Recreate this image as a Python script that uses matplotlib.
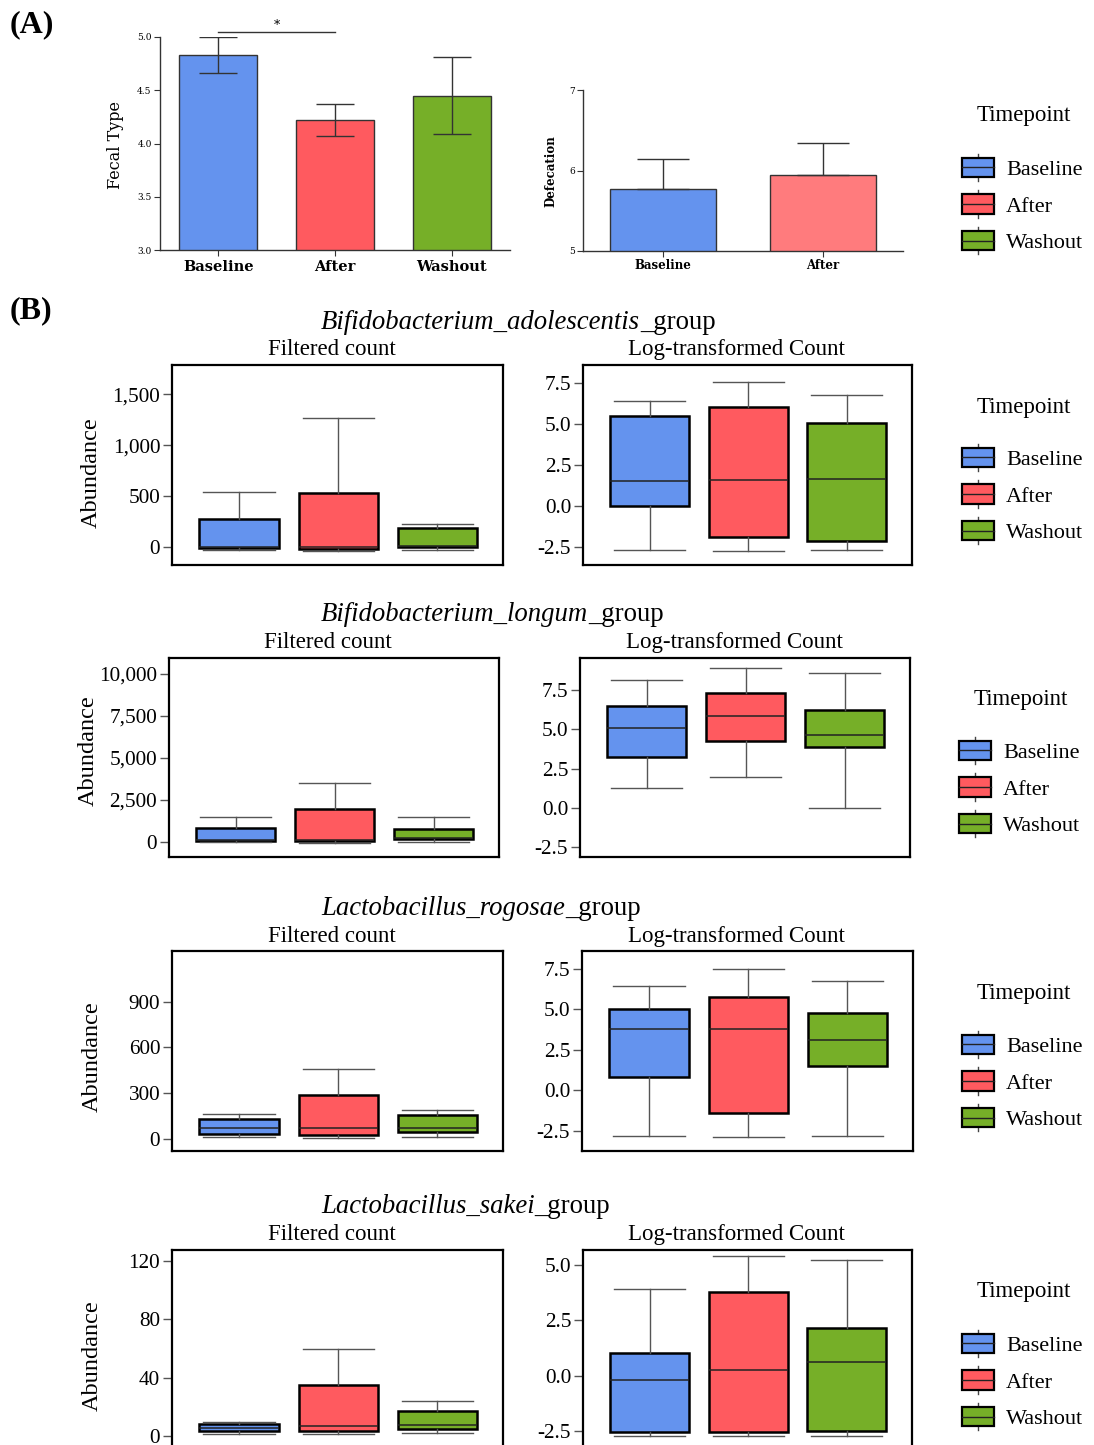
import matplotlib
matplotlib.use('Agg')
import matplotlib.pyplot as plt
from matplotlib.patches import Rectangle, Patch
from matplotlib.lines import Line2D
from matplotlib.legend_handler import HandlerBase
from matplotlib.ticker import StrMethodFormatter

plt.rcParams['axes.unicode_minus'] = False

# ---------------- data ----------------
timepoints = ['Baseline', 'After', 'Washout']
fecal_mean = [4.83, 4.22, 4.45]
fecal_err = [0.17, 0.15, 0.365]
sig_pair = [0, 1]
sig_label = '*'

defec_groups = ['Baseline', 'After']
defec_mean = [5.77, 5.94]
defec_err_upper = [0.37, 0.40]

species = ['Bifidobacterium_adolescentis', 'Bifidobacterium_longum',
           'Lactobacillus_rogosae', 'Lactobacillus_sakei']

# Filtered count box stats (rows: species, cols: timepoints)
filt_lo = [[-33, -39, -33], [0, -30, 0], [15, 9, 13], [1.6, 1.6, 2.0]]
filt_q1 = [[-16, -23, 0], [79, 79, 178], [31, 24, 44], [3.4, 3.4, 4.8]]
filt_med = [[2, 0, 5], [140, 140, 230], [70, 70, 74], [5.5, 7.0, 7.7]]
filt_q3 = [[272, 525, 180], [812, 1960, 752], [131, 286, 159], [8.2, 35.3, 16.8]]
filt_hi = [[541, 1267, 220], [1485, 3505, 1485], [162, 457, 188], [9.3, 59.8, 24.0]]

# Log-transformed count box stats
log_lo = [[-2.70, -2.76, -2.70], [1.27, 1.99, 0.0], [-2.83, -2.90, -2.83], [-2.71, -2.71, -2.71]]
log_q1 = [[0.0, -1.93, -2.13], [3.24, 4.28, 3.86], [0.82, -1.42, 1.52], [-2.56, -2.56, -2.49]]
log_med = [[1.48, 1.54, 1.61], [5.11, 5.87, 4.64], [3.78, 3.78, 3.10], [-0.17, 0.24, 0.63]]
log_q3 = [[5.49, 6.04, 5.02], [6.46, 7.31, 6.25], [4.99, 5.77, 4.76], [1.03, 3.79, 2.16]]
log_hi = [[6.36, 7.54, 6.77], [8.14, 8.88, 8.56], [6.43, 7.50, 6.76], [3.94, 5.43, 5.22]]

filt_ticks = [[0, 500, 1000, 1500], [0, 2500, 5000, 7500, 10000], [0, 300, 600, 900], [0, 40, 80, 120]]
log_ticks = [[-2.5, 0, 2.5, 5, 7.5], [-2.5, 0, 2.5, 5, 7.5], [-2.5, 0, 2.5, 5, 7.5], [-2.5, 0, 2.5, 5.0]]

# ---------------- style / layout ----------------
colors = ['#6493EE', '#FF5A5F', '#76AF28']
defec_colors = ['#6493EE', '#FF7B7D']
SERIF = 'Liberation Serif'
ASERIF = 'DejaVu Serif'

W, H = 1094, 1445
fig = plt.figure(figsize=(W / 100, H / 100), dpi=100)


def fbox(x0, y0, x1, y1):
    return [x0 / W, 1 - y1 / H, (x1 - x0) / W, (y1 - y0) / H]


def fx(x):
    return x / W


def fy(y):
    return 1 - y / H


class BoxHandler(HandlerBase):
    def create_artists(self, legend, orig_handle, xdescent, ydescent,
                       width, height, fontsize, trans):
        fc = orig_handle.get_facecolor()
        x0, y0 = -xdescent, -ydescent
        ext = height * 0.22
        cx = x0 + width / 2
        w1 = Line2D([cx, cx], [y0 + height, y0 + height + ext], color='#444', lw=1, transform=trans)
        w2 = Line2D([cx, cx], [y0 - ext, y0], color='#444', lw=1, transform=trans)
        rect = Rectangle((x0, y0), width, height, facecolor=fc, edgecolor='black',
                         lw=1.6, transform=trans)
        med = Line2D([x0, x0 + width], [y0 + height / 2] * 2, color='#222', lw=1, transform=trans)
        return [w1, w2, rect, med]


def add_legend(title_y, center_y, icon_x, title_x=1024):
    fig.text(fx(title_x), fy(title_y), 'Timepoint', family=SERIF, fontsize=16.5,
             ha='center', va='center')
    handles = [Patch(facecolor=c) for c in colors]
    fig.legend(handles, timepoints, loc='center left',
               bbox_to_anchor=(fx(icon_x), fy(center_y + 1.5)),
               frameon=False, borderpad=0, borderaxespad=0,
               handlelength=1.44, handleheight=0.95, handletextpad=0.55,
               labelspacing=0.65, prop={'family': SERIF, 'size': 16},
               handler_map={Patch: BoxHandler()})


# ---------------- Panel A ----------------
fig.text(fx(10), fy(25), '(A)', family=SERIF, fontweight='bold', fontsize=23, va='center')
fig.text(fx(10), fy(311), '(B)', family=SERIF, fontweight='bold', fontsize=23, va='center')

axf = fig.add_axes(fbox(160, 37, 510, 250))
xs = list(range(len(timepoints)))
axf.bar(xs, fecal_mean, width=0.67, color=colors, edgecolor='#333', linewidth=1)
axf.errorbar(xs, fecal_mean, yerr=fecal_err, fmt='none', ecolor='#333',
             elinewidth=1, capsize=14, capthick=1)
axf.set_xlim(-0.5, 2.5)
axf.set_ylim(3.0, 5.0)
axf.set_yticks([3.0, 3.5, 4.0, 4.5, 5.0])
axf.yaxis.set_major_formatter(StrMethodFormatter('{x:.1f}'))
axf.set_xticks(xs)
axf.set_xticklabels(timepoints, family=ASERIF, fontweight='bold', fontsize=10.5)
for lab in axf.get_yticklabels():
    lab.set_family(ASERIF)
    lab.set_fontsize(6.5)
axf.tick_params(axis='y', length=4, width=0.8, color='#333', pad=2)
axf.tick_params(axis='x', length=4, width=0.8, color='#333', pad=3)
for s in ['top', 'right']:
    axf.spines[s].set_visible(False)
for s in ['left', 'bottom']:
    axf.spines[s].set_color('#333')
    axf.spines[s].set_linewidth(1)
sig_y = 5.05
axf.plot(sig_pair, [sig_y, sig_y], color='#333', lw=1, clip_on=False)
axf.text(sum(sig_pair) / 2, sig_y, sig_label, ha='center', va='bottom',
         fontsize=9, family=ASERIF)
fig.text(fx(116), fy(145), 'Fecal Type', family=ASERIF, fontsize=11.5,
         rotation=90, ha='center', va='center')

axd = fig.add_axes(fbox(583, 90, 903, 251))
dx = list(range(len(defec_groups)))
axd.bar(dx, defec_mean, width=0.665, color=defec_colors, edgecolor='#333', linewidth=1)
axd.errorbar(dx, defec_mean, yerr=[[0] * len(dx), defec_err_upper], fmt='none',
             ecolor='#333', elinewidth=1, capsize=19, capthick=1)
axd.set_xlim(-0.5, 1.5)
axd.set_ylim(5, 7)
axd.set_yticks([5, 6, 7])
axd.set_xticks(dx)
axd.set_xticklabels(defec_groups, family=ASERIF, fontweight='bold', fontsize=8.5)
for lab in axd.get_yticklabels():
    lab.set_family(ASERIF)
    lab.set_fontsize(6.5)
axd.tick_params(axis='y', length=4, width=0.8, color='#333', pad=2)
axd.tick_params(axis='x', length=4, width=0.8, color='#333', pad=2)
for s in ['top', 'right']:
    axd.spines[s].set_visible(False)
for s in ['left', 'bottom']:
    axd.spines[s].set_color('#333')
    axd.spines[s].set_linewidth(1)
fig.text(fx(551), fy(171), 'Defecation', family=ASERIF, fontweight='bold', fontsize=8.5,
         rotation=90, ha='center', va='center')

add_legend(116, 204, 962)

# ---------------- Panel B ----------------
left_boxes = [(172, 365, 503, 565), (169, 658, 499, 857), (172, 951, 503, 1151), (172, 1250, 503, 1450)]
right_boxes = [(583, 365, 912, 565), (580, 658, 910, 857), (582, 951, 913, 1151), (583, 1250, 912, 1450)]
filt_ylim = [(-180, 1790), (-890, 10930), (-79, 1232), (-9.6, 127.5)]
log_ylim = [(-3.62, 8.58), (-3.11, 9.53), (-3.76, 8.6), (-3.36, 5.69)]
title_base = [329, 621, 915, 1213]
sub_base = [355, 648, 942, 1240]
abund_y = [473, 751, 1057, 1356]
abund_x = [91, 88, 92, 92]
legend_title_y = [407, 700, 993, 1292]
legend_center_y = [494, 787, 1081, 1380]
legend_icon_x = [962, 959, 962, 962]
legend_title_x = [1024, 1021, 1024, 1024]

renderer = fig.canvas.get_renderer()


def make_stats(lo, q1, med, q3, hi):
    return [dict(whislo=lo[i], q1=q1[i], med=med[i], q3=q3[i], whishi=hi[i], label=timepoints[i])
            for i in range(len(timepoints))]


def style_box_axes(ax, ylim, ticks, fmt):
    ax.set_xlim(-0.675, 2.66)
    ax.set_ylim(*ylim)
    ax.set_yticks(ticks)
    ax.yaxis.set_major_formatter(StrMethodFormatter(fmt))
    ax.set_xticks([])
    ax.tick_params(axis='y', length=6.5, width=1, color='#555', pad=2, labelsize=15.3)
    for lab in ax.get_yticklabels():
        lab.set_family(SERIF)
    for s in ax.spines.values():
        s.set_linewidth(1.6)
        s.set_color('black')


def draw_boxes(ax, stats):
    bp = ax.bxp(stats, positions=[0, 1, 2], widths=0.8, capwidths=0.72,
                patch_artist=True, showfliers=False,
                boxprops=dict(linewidth=1.8, edgecolor='black'),
                whiskerprops=dict(color='#555', linewidth=1.0),
                capprops=dict(color='#555', linewidth=1.0),
                medianprops=dict(color='#222', linewidth=1.1))
    for patch, c in zip(bp['boxes'], colors):
        patch.set_facecolor(c)


for r in range(len(species)):
    axl = fig.add_axes(fbox(*left_boxes[r]))
    draw_boxes(axl, make_stats(filt_lo[r], filt_q1[r], filt_med[r], filt_q3[r], filt_hi[r]))
    style_box_axes(axl, filt_ylim[r], filt_ticks[r], '{x:,.0f}')

    axr = fig.add_axes(fbox(*right_boxes[r]))
    draw_boxes(axr, make_stats(log_lo[r], log_q1[r], log_med[r], log_q3[r], log_hi[r]))
    style_box_axes(axr, log_ylim[r], log_ticks[r], '{x:.1f}')

    # title: italic species + upright "_group"
    t1 = fig.text(fx(321), fy(title_base[r]), species[r], family=SERIF, style='italic',
                  fontsize=19.3, ha='left', va='baseline')
    bb = t1.get_window_extent(renderer=renderer)
    fig.text(bb.x1 / fig.bbox.width, fy(title_base[r]), '_group', family=SERIF,
             fontsize=19.3, ha='left', va='baseline')

    lc = (left_boxes[r][0] + left_boxes[r][2]) / 2 - 6
    rc = (right_boxes[r][0] + right_boxes[r][2]) / 2 - 11
    fig.text(fx(lc), fy(sub_base[r]), 'Filtered count', family=SERIF, fontsize=16.5,
             ha='center', va='baseline')
    fig.text(fx(rc), fy(sub_base[r]), 'Log-transformed Count', family=SERIF, fontsize=16.5,
             ha='center', va='baseline')
    fig.text(fx(abund_x[r]), fy(abund_y[r]), 'Abundance', family=SERIF, fontsize=17.5,
             rotation=90, ha='center', va='center')

    add_legend(legend_title_y[r], legend_center_y[r], legend_icon_x[r], legend_title_x[r])

fig.savefig('out.png', dpi=100)
